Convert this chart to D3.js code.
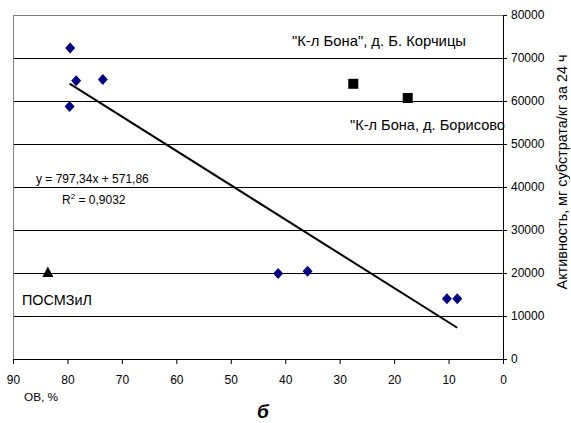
<!DOCTYPE html>
<html>
<head>
<meta charset="utf-8">
<script src="https://cdn.jsdelivr.net/npm/d3@7"></script>
<style>
body { margin: 0; background: #fff; }
text { font-family: "Liberation Sans", Arial, sans-serif; }
</style>
</head>
<body>
<svg id="chart" width="571" height="423"></svg>
<script>
// data
var blueOV = [79.5, 78.4, 73.5, 79.6, 41.3, 35.9, 10.3, 8.4];
var blueAct = [72300, 64700, 65000, 58700, 19900, 20400, 14000, 14000];
var squareOV = [27.5, 17.5];
var squareAct = [64000, 60700];
var triOV = [83.6];
var triAct = [20100];
var trendK = 797.34, trendB = 571.86;
var xTicks = [90, 80, 70, 60, 50, 40, 30, 20, 10, 0];
var yTicks = [0, 10000, 20000, 30000, 40000, 50000, 60000, 70000, 80000];

var svg = d3.select('#chart');
// note: "top" is window.top, so use other names
var plotL = 13, plotR = 503, plotT = 15, plotB = 359;

var x = d3.scaleLinear().domain([90, 0]).range([plotL, plotR]);
var y = d3.scaleLinear().domain([0, 80000]).range([plotB, plotT]);

// grid lines
svg.append('g').selectAll('line').data(yTicks.filter(function(d) { return d > 0 && d < 80000; }))
    .enter().append('line')
    .attr('x1', plotL).attr('x2', plotR)
    .attr('y1', function(d) { return y(d); }).attr('y2', function(d) { return y(d); })
    .attr('stroke', '#000').attr('stroke-width', 1).attr('shape-rendering', 'crispEdges');

// gray frame top / left
svg.append('line').attr('x1', plotL).attr('x2', plotR).attr('y1', plotT).attr('y2', plotT)
    .attr('stroke', '#808080').attr('shape-rendering', 'crispEdges');
svg.append('line').attr('x1', plotL).attr('x2', plotL).attr('y1', plotT).attr('y2', plotB)
    .attr('stroke', '#808080').attr('shape-rendering', 'crispEdges');

// axes
var xAxis = d3.axisBottom(x).tickValues(xTicks).tickSize(5).tickSizeOuter(0).tickPadding(11);
var yAxis = d3.axisRight(y).tickValues(yTicks).tickFormat(d3.format('d')).tickSize(4).tickSizeOuter(0).tickPadding(4);

svg.append('g').attr('transform', 'translate(0,' + plotB + ')').call(xAxis)
    .call(function(g) {
        g.select('.domain').attr('stroke', '#000');
        g.selectAll('text').attr('font-size', 12).attr('fill', '#000').attr('font-family', '"Liberation Sans", Arial, sans-serif');
    });
svg.append('g').attr('transform', 'translate(' + plotR + ',0)').call(yAxis)
    .call(function(g) {
        g.selectAll('text').attr('font-size', 12).attr('fill', '#000').attr('font-family', '"Liberation Sans", Arial, sans-serif');
    });

// trend line
var minOV = d3.min(blueOV), maxOV = d3.max(blueOV);
svg.append('path')
    .attr('d', d3.line()([[x(maxOV), y(trendK * maxOV + trendB)], [x(minOV), y(trendK * minOV + trendB)]]))
    .attr('stroke', '#000').attr('stroke-width', 2).attr('fill', 'none');

// markers
var blue = blueOV.map(function(d, i) { return [d, blueAct[i]]; });
svg.append('g').selectAll('path').data(blue).enter().append('path')
    .attr('d', 'M0,-5.5L5,0L0,5.5L-5,0Z')
    .attr('transform', function(d) { return 'translate(' + x(d[0]) + ',' + y(d[1]) + ')'; })
    .attr('fill', '#000080');

var sq = squareOV.map(function(d, i) { return [d, squareAct[i]]; });
svg.append('g').selectAll('rect').data(sq).enter().append('rect')
    .attr('x', function(d) { return x(d[0]) - 5; }).attr('y', function(d) { return y(d[1]) - 5; })
    .attr('width', 10).attr('height', 10).attr('fill', '#000');

var tri = triOV.map(function(d, i) { return [d, triAct[i]]; });
svg.append('g').selectAll('path').data(tri).enter().append('path')
    .attr('d', 'M0,-6L5.5,4.5L-5.5,4.5Z')
    .attr('transform', function(d) { return 'translate(' + x(d[0]) + ',' + y(d[1]) + ')'; })
    .attr('fill', '#000');

// labels
var lab = function(t, px, py, size) {
    return svg.append('text').attr('x', px).attr('y', py).attr('font-size', size).attr('fill', '#000').text(t);
};
lab('"К-л Бона", д. Б. Корчицы', 292, 46, 14.8);
lab('"К-л Бона, д. Борисово', 350, 130, 14.6);
lab('y = 797,34x + 571,86', 36, 183, 12);
var r2 = lab('R', 62, 204, 12);
r2.append('tspan').attr('font-size', 8).attr('dy', -5).text('2');
r2.append('tspan').attr('dy', 5).text(' = 0,9032');
lab('ПОСМЗиЛ', 22, 305, 14.4);
lab('ОВ, %', 24, 401, 11.8);
lab('б', 257, 418, 19).attr('font-weight', 'bold').attr('font-style', 'italic');

svg.append('text')
    .attr('transform', 'translate(567,172) rotate(-90)')
    .attr('text-anchor', 'middle').attr('font-size', 14.4).attr('fill', '#000')
    .text('Активность, мг субстрата/кг за 24 ч');
</script>
</body>
</html>
